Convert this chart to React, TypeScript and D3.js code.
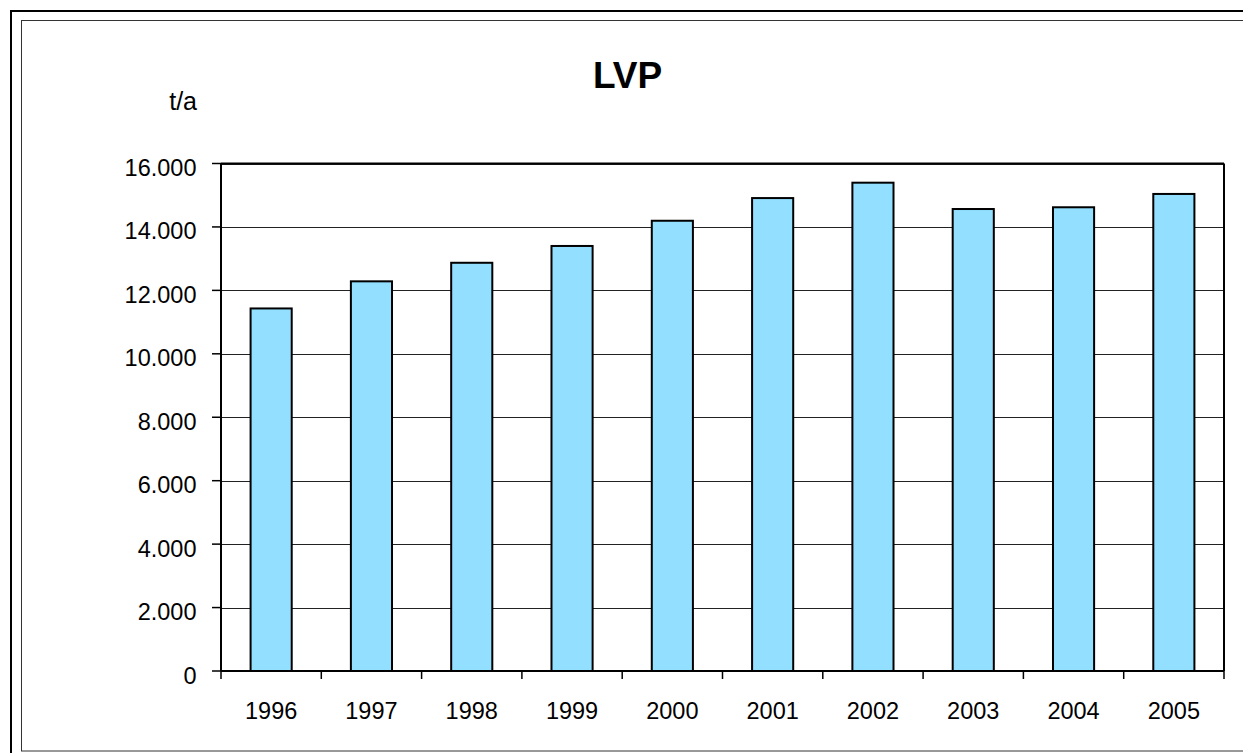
import React from 'react';
import * as d3 from 'd3';

// Data for the LVP chart (t/a per year)
const years = ['1996', '1997', '1998', '1999', '2000', '2001', '2002', '2003', '2004', '2005'];
const values = [11430, 12285, 12870, 13400, 14195, 14910, 15395, 14565, 14620, 15040];
const yTicks = [0, 2000, 4000, 6000, 8000, 10000, 12000, 14000, 16000];

const chartTitle = 'LVP';
const unitLabel = 't/a';

const fmt = (v: number) => (v === 0 ? '0' : d3.format(',')(v).replace(/,/g, '.'));

const App = () => {
  const width = 1243;
  const height = 753;
  const left = 221;
  const right = 1224;
  const top = 163.5;
  const bottom = 671;

  const x = d3.scaleBand().domain(years).range([left, right]).paddingInner(0.59).paddingOuter(0.295);
  const xCat = d3.scaleBand().domain(years).range([left, right]).padding(0);
  const y = d3.scaleLinear().domain([0, 16000]).range([bottom, top]);

  const font = 'Arial, "Liberation Sans", sans-serif';
  const labelSize = 23.5;

  return (
    <svg
      width={width}
      height={height}
      style={{ position: 'absolute', left: 0, top: 0, background: '#fff' }}
      fontFamily={font}
    >
      {/* Outer frames */}
      <rect x={11} y={11} width={width + 20} height={height + 20} fill="none" stroke="#000" strokeWidth={2} />
      <rect x={21.5} y={20.5} width={width} height={730.5} fill="none" stroke="#333" strokeWidth={1} />

      {/* Title */}
      <text x={627.5} y={87.5} textAnchor="middle" fontSize={37} fontWeight="bold" fill="#000">
        {chartTitle}
      </text>
      <text x={197} y={110} textAnchor="end" fontSize={25} fill="#000">
        {unitLabel}
      </text>

      {/* Gridlines */}
      {yTicks.map((t) => (
        <line key={'g' + t} x1={left} x2={right} y1={Math.round(y(t)) + 0.5} y2={Math.round(y(t)) + 0.5} stroke="#222" strokeWidth={1} />
      ))}

      {/* Plot frame top/right */}
      <line x1={left} x2={right} y1={top} y2={top} stroke="#000" strokeWidth={2} />
      <line x1={right} x2={right} y1={top} y2={bottom} stroke="#000" strokeWidth={2} />

      {/* Bars */}
      {values.map((v, i) => (
        <rect
          key={years[i]}
          x={x(years[i])!}
          y={y(v)}
          width={x.bandwidth()}
          height={y(0) - y(v)}
          fill="#93dfff"
          stroke="#000"
          strokeWidth={2}
        />
      ))}

      {/* Y axis */}
      <line x1={left} x2={left} y1={top} y2={bottom} stroke="#000" strokeWidth={2} />
      {yTicks.map((t) => (
        <g key={'y' + t}>
          <line x1={left - 9} x2={left} y1={y(t)} y2={y(t)} stroke="#000" strokeWidth={1.5} />
          <text x={196.5} y={y(t) + 12.5} textAnchor="end" fontSize={labelSize} fill="#000">
            {fmt(t)}
          </text>
        </g>
      ))}

      {/* X axis */}
      <line x1={left} x2={right} y1={bottom} y2={bottom} stroke="#000" strokeWidth={2} />
      {[...years.map((yr) => xCat(yr)!), right].map((px, i) => (
        <line key={'xt' + i} x1={px} x2={px} y1={bottom} y2={bottom + 8} stroke="#000" strokeWidth={1.5} />
      ))}
      {years.map((yr) => (
        <text key={'xl' + yr} x={xCat(yr)! + xCat.bandwidth() / 2} y={bottom + 47.5} textAnchor="middle" fontSize={labelSize} fill="#000">
          {yr}
        </text>
      ))}
    </svg>
  );
};

export default App;
